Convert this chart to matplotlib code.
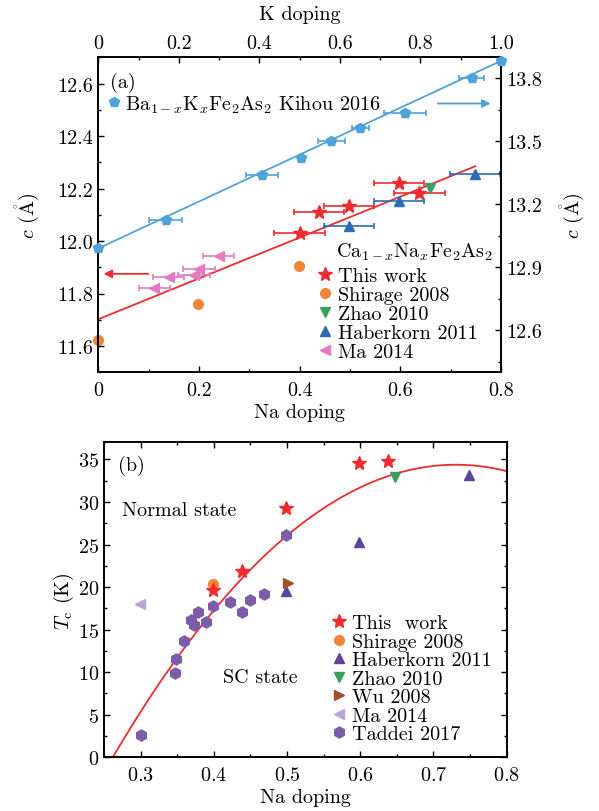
import matplotlib.pyplot as plt
import numpy as np
from matplotlib.lines import Line2D
from matplotlib.ticker import MultipleLocator

plt.rcParams['font.family'] = ['cmr10', 'DejaVu Serif']
plt.rcParams['mathtext.fontset'] = 'cm'
plt.rcParams['axes.formatter.use_mathtext'] = True
plt.rcParams['font.size'] = 14.5

RED = '#f02a2e'
KBLUE = '#4ea3d8'
HBLUE = '#2c6cb4'
ORANGE = '#f0843a'
GREEN = '#3c9e5c'
PINK = '#e47cbf'
HPURPLE = '#5e4399'
TADDEI = '#7c5ba8'
MALIGHT = '#b9a6d4'
BROWN = '#a0522d'

# ---- panel (a): lattice parameter c ----
# Ba1-xKxFe2As2 (Kihou 2016), top/right axes
kihou_k = [0.0, 0.168, 0.406, 0.503, 0.579, 0.650, 0.762, 0.927, 1.0]
kihou_c = [12.99, 13.126, 13.341, 13.421, 13.501, 13.564, 13.633, 13.803, 13.883]
kihou_kerr = [0, 0.041, 0.040, 0, 0.033, 0.021, 0.052, 0.031, 0]
kihou_fit_k = [0.0, 1.0]
kihou_fit_c = [12.99, 13.883]

# Ca1-xNaxFe2As2, bottom/left axes
this_na = [0.400, 0.439, 0.498, 0.598, 0.638]
this_c = [12.030, 12.112, 12.134, 12.220, 12.183]
this_naerr = [0.05, 0.05, 0.05, 0.05, 0.05]
shir_na = [0.0, 0.199, 0.399]
shir_c = [11.623, 11.762, 11.904]
zhao_na = [0.658]
zhao_c = [12.201]
haber_na = [0.498, 0.598, 0.748]
haber_c = [12.056, 12.154, 12.256]
haber_naerr = [0.05, 0.05, 0.05]
ma_na = [0.111, 0.140, 0.190, 0.200, 0.239]
ma_c = [11.822, 11.863, 11.872, 11.892, 11.942]
ma_naerr = [0.031, 0.031, 0.031, 0.031, 0.031]
na_fit_x = [0.0, 0.749]
na_fit_c = [11.702, 12.285]

# ---- panel (b): Tc ----
tc_this_x = [0.399, 0.439, 0.499, 0.598, 0.638]
tc_this = [19.7, 21.9, 29.3, 34.6, 34.8]
tc_shir_x = [0.399]
tc_shir = [20.4]
tc_haber_x = [0.499, 0.598, 0.748]
tc_haber = [19.5, 25.3, 33.2]
tc_zhao_x = [0.648]
tc_zhao = [32.9]
tc_wu_x = [0.501]
tc_wu = [20.5]
tc_ma_x = [0.299]
tc_ma = [18.0]
tc_tad_x = [0.300, 0.347, 0.349, 0.359, 0.3685, 0.3726, 0.379, 0.389, 0.399,
            0.4217, 0.439, 0.449, 0.468, 0.499]
tc_tad = [2.6, 9.9, 11.6, 13.7, 16.15, 15.5, 17.05, 15.95, 17.8,
          18.2, 17.05, 18.45, 19.15, 26.1]
tc_fit_coef = [-156.6, 228.8, -49.2]   # quadratic dome fit

fig = plt.figure(figsize=(5.99, 8.12), dpi=100)

def style_ticks(a):
    for s in a.spines.values():
        s.set_linewidth(1.4)
    a.tick_params(which='major', direction='in', length=4.5, width=1.0)
    a.tick_params(which='minor', direction='in', length=2.5, width=1.0)

ax = fig.add_axes([0.1641, 0.5403, 0.6723, 0.3879])
ax_k = fig.add_axes([0.1641, 0.5403, 0.6723, 0.3879], frameon=False)
ax_k.patch.set_visible(False)

ax.plot(na_fit_x, na_fit_c, color=RED, lw=1.3)
ax.errorbar(this_na, this_c, xerr=this_naerr, fmt='*', color=RED, ms=10,
            capsize=2.5, elinewidth=1.2, capthick=1.2)
ax.errorbar(haber_na, haber_c, xerr=haber_naerr, fmt='^', color=HBLUE, ms=7,
            capsize=2.5, elinewidth=1.2, capthick=1.2)
ax.errorbar(ma_na, ma_c, xerr=ma_naerr, fmt='<', color=PINK, ms=7.5,
            capsize=2.5, elinewidth=1.2, capthick=1.2)
ax.plot(zhao_na, zhao_c, 'v', color=GREEN, ms=7)
ax.plot(shir_na, shir_c, 'o', color=ORANGE, ms=7, clip_on=False)
ax.annotate('', xy=(0.005, 11.875), xytext=(0.105, 11.875),
            arrowprops=dict(arrowstyle='-|>', color=RED, lw=1.3, mutation_scale=12))

ax_k.plot(kihou_fit_k, kihou_fit_c, color=KBLUE, lw=1.3)
ax_k.errorbar(kihou_k, kihou_c, xerr=kihou_kerr, fmt='p', color=KBLUE, ms=7.5,
              capsize=2.5, elinewidth=1.2, capthick=1.2, clip_on=False)
ax_k.annotate('', xy=(0.981, 13.68), xytext=(0.836, 13.68),
              arrowprops=dict(arrowstyle='-|>', color=KBLUE, lw=1.3, mutation_scale=12))

ax.set_xlim(0, 0.8)
ax.set_ylim(11.5, 12.7)
ax.set_xticks([0, 0.2, 0.4, 0.6, 0.8])
ax.set_xticklabels(['0', '0.2', '0.4', '0.6', '0.8'])
ax.set_yticks([11.6, 11.8, 12.0, 12.2, 12.4, 12.6])
ax.set_yticklabels(['11.6', '11.8', '12.0', '12.2', '12.4', '12.6'])
ax.xaxis.set_minor_locator(MultipleLocator(0.1))
ax.yaxis.set_minor_locator(MultipleLocator(0.1))
style_ticks(ax)
ax.tick_params(which='both', top=False, right=False)
ax.tick_params(axis='x', pad=6)
ax.set_xlabel('Na doping', labelpad=3)
ax.set_ylabel(r'$c$ ($\mathring{\mathrm{A}}$)', labelpad=11)

ax_k.set_xlim(0, 1.0)
ax_k.set_ylim(12.4, 13.9)
ax_k.xaxis.tick_top()
ax_k.xaxis.set_label_position('top')
ax_k.yaxis.tick_right()
ax_k.yaxis.set_label_position('right')
ax_k.set_xticks([0, 0.2, 0.4, 0.6, 0.8, 1.0])
ax_k.set_xticklabels(['0', '0.2', '0.4', '0.6', '0.8', '1.0'])
ax_k.set_yticks([12.6, 12.9, 13.2, 13.5, 13.8])
ax_k.set_yticklabels(['12.6', '12.9', '13.2', '13.5', '13.8'])
ax_k.xaxis.set_minor_locator(MultipleLocator(0.1))
ax_k.yaxis.set_minor_locator(MultipleLocator(0.15))
style_ticks(ax_k)
ax_k.set_xlabel('K doping', labelpad=11)
ax_k.set_ylabel(r'$c$ ($\mathring{\mathrm{A}}$)', labelpad=12)

ax.text(0.03, 0.955, '(a)', transform=ax.transAxes, va='top', ha='left')

leg_k = ax.legend([Line2D([], [], ls='', marker='p', color=KBLUE, ms=7.5)],
                  [r'Ba$_{1-x}$K$_x$Fe$_2$As$_2$ Kihou 2016'],
                  loc='upper left', bbox_to_anchor=(0.022, 0.885), frameon=False,
                  handlelength=0.7, handletextpad=0.2, borderpad=0, borderaxespad=0)
ax.add_artist(leg_k)
ax.text(0.59, 0.385, r'Ca$_{1-x}$Na$_x$Fe$_2$As$_2$', transform=ax.transAxes,
        va='center', ha='left')
h_a = [Line2D([], [], ls='', marker='*', color=RED, ms=10),
       Line2D([], [], ls='', marker='o', color=ORANGE, ms=7),
       Line2D([], [], ls='', marker='v', color=GREEN, ms=7),
       Line2D([], [], ls='', marker='^', color=HBLUE, ms=7),
       Line2D([], [], ls='', marker='<', color=PINK, ms=7)]
ax.legend(h_a, ['This work', 'Shirage 2008', 'Zhao 2010', 'Haberkorn 2011', 'Ma 2014'],
          loc='upper left', bbox_to_anchor=(0.545, 0.335), frameon=False,
          handlelength=0.7, handletextpad=0.3, borderpad=0, borderaxespad=0,
          labelspacing=0.05)

# ---- panel (b) ----
bx = fig.add_axes([0.1736, 0.0661, 0.6723, 0.3879])
xs = np.linspace(0.25, 0.8, 200)
bx.plot(xs, np.polyval(tc_fit_coef, xs), color=RED, lw=1.3)
bx.plot(tc_tad_x, tc_tad, 'h', color=TADDEI, ms=8)
bx.plot(tc_shir_x, tc_shir, 'o', color=ORANGE, ms=7)
bx.plot(tc_haber_x, tc_haber, '^', color=HPURPLE, ms=7)
bx.plot(tc_zhao_x, tc_zhao, 'v', color=GREEN, ms=7)
bx.plot(tc_wu_x, tc_wu, '>', color=BROWN, ms=7)
bx.plot(tc_ma_x, tc_ma, '<', color=MALIGHT, ms=7)
bx.plot(tc_this_x, tc_this, '*', color=RED, ms=10)

bx.set_xlim(0.25, 0.8)
bx.set_ylim(0, 37)
bx.set_xticks([0.3, 0.4, 0.5, 0.6, 0.7, 0.8])
bx.set_yticks([0, 5, 10, 15, 20, 25, 30, 35])
bx.xaxis.set_minor_locator(MultipleLocator(0.05))
bx.yaxis.set_minor_locator(MultipleLocator(2.5))
style_ticks(bx)
bx.tick_params(which='both', top=True, right=True)
bx.tick_params(axis='x', pad=6)
bx.set_xlabel('Na doping', labelpad=3)
bx.set_ylabel(r'$T_{\mathrm{c}}$ (K)', labelpad=1)

bx.text(0.035, 0.96, '(b)', transform=bx.transAxes, va='top', ha='left')
bx.text(0.044, 0.785, 'Normal state', transform=bx.transAxes, va='center', ha='left')
bx.text(0.296, 0.254, 'SC state', transform=bx.transAxes, va='center', ha='left')

h_b = [Line2D([], [], ls='', marker='*', color=RED, ms=10),
       Line2D([], [], ls='', marker='o', color=ORANGE, ms=7),
       Line2D([], [], ls='', marker='^', color=HPURPLE, ms=7),
       Line2D([], [], ls='', marker='v', color=GREEN, ms=7),
       Line2D([], [], ls='', marker='>', color=BROWN, ms=7),
       Line2D([], [], ls='', marker='<', color=MALIGHT, ms=7),
       Line2D([], [], ls='', marker='h', color=TADDEI, ms=8)]
bx.legend(h_b, ['This  work', 'Shirage 2008', 'Haberkorn 2011', 'Zhao 2010',
                'Wu 2008', 'Ma 2014', 'Taddei 2017'],
          loc='upper left', bbox_to_anchor=(0.565, 0.455), frameon=False,
          handlelength=0.7, handletextpad=0.3, borderpad=0, borderaxespad=0,
          labelspacing=0.02)

fig.savefig('out.png', dpi=100)
